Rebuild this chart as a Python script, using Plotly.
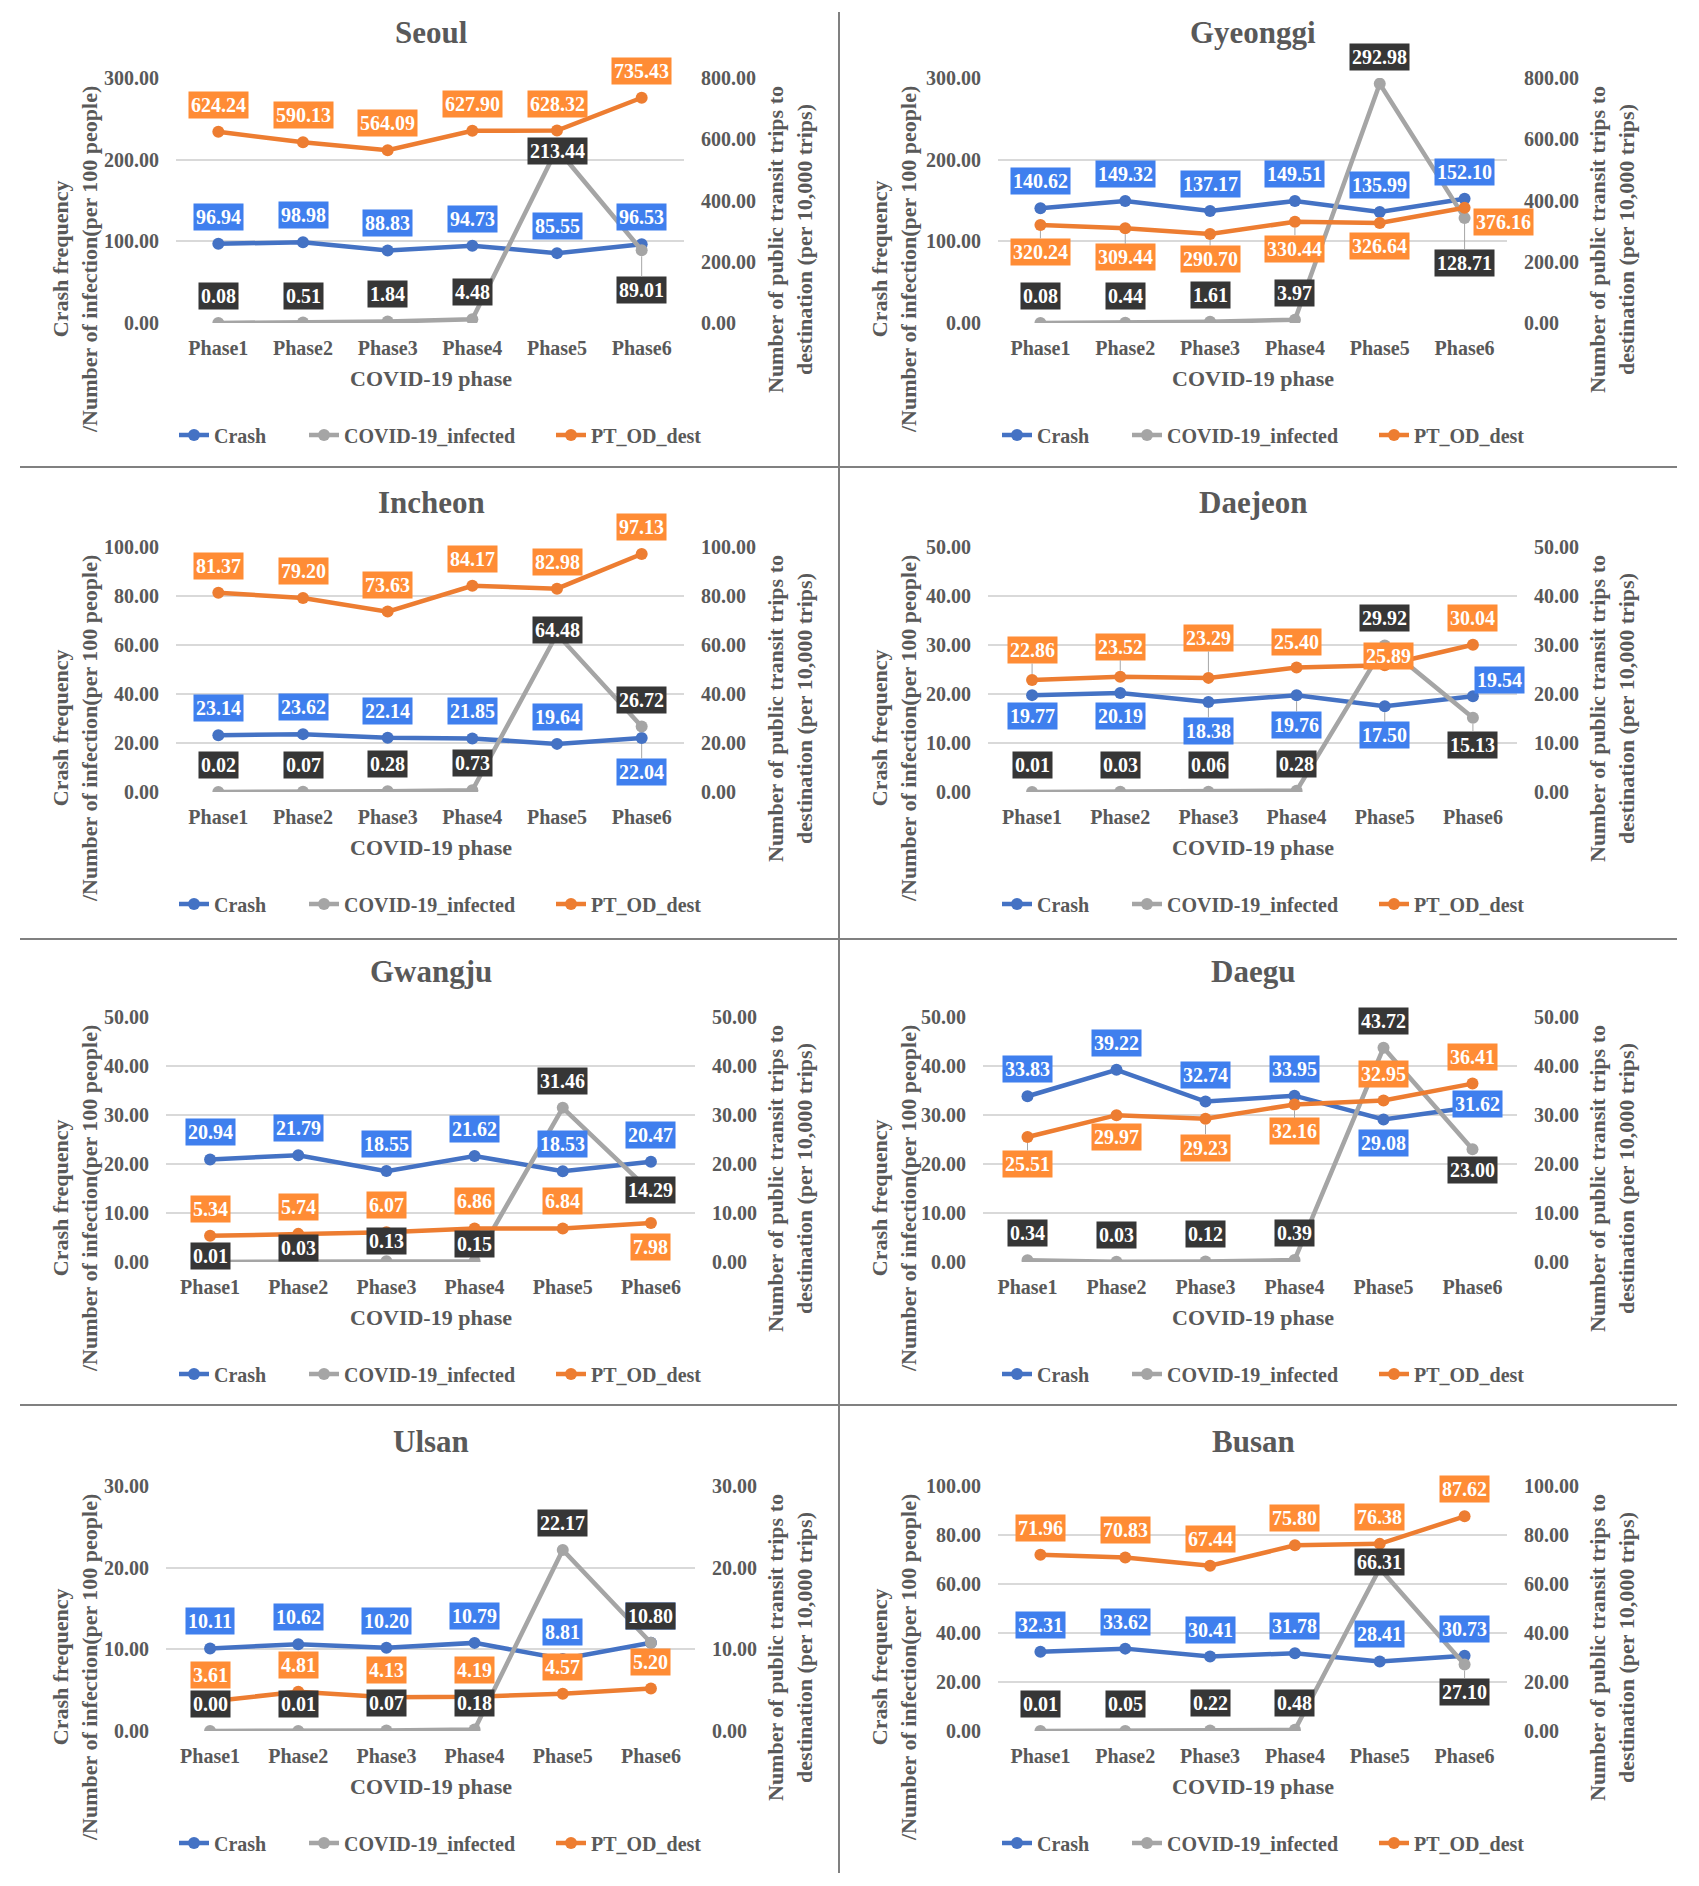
import plotly.graph_objects as go

W, H = 1699, 1886
PAGE_OFFSET = 8  # default body margin of the html page
FONT = "Liberation Serif"
GREY = "#595959"

PHASES = ["Phase1", "Phase2", "Phase3", "Phase4", "Phase5", "Phase6"]
CITIES = ["Seoul", "Gyeonggi", "Incheon", "Daejeon", "Gwangju", "Daegu", "Ulsan", "Busan"]
SERIES = ["Crash", "COVID-19_infected", "PT_OD_dest"]

seoul_crash = [96.94, 98.98, 88.83, 94.73, 85.55, 96.53]
seoul_covid = [0.08, 0.51, 1.84, 4.48, 213.44, 89.01]
seoul_pt = [624.24, 590.13, 564.09, 627.90, 628.32, 735.43]

gyeonggi_crash = [140.62, 149.32, 137.17, 149.51, 135.99, 152.10]
gyeonggi_covid = [0.08, 0.44, 1.61, 3.97, 292.98, 128.71]
gyeonggi_pt = [320.24, 309.44, 290.70, 330.44, 326.64, 376.16]

incheon_crash = [23.14, 23.62, 22.14, 21.85, 19.64, 22.04]
incheon_covid = [0.02, 0.07, 0.28, 0.73, 64.48, 26.72]
incheon_pt = [81.37, 79.20, 73.63, 84.17, 82.98, 97.13]

daejeon_crash = [19.77, 20.19, 18.38, 19.76, 17.50, 19.54]
daejeon_covid = [0.01, 0.03, 0.06, 0.28, 29.92, 15.13]
daejeon_pt = [22.86, 23.52, 23.29, 25.40, 25.89, 30.04]

gwangju_crash = [20.94, 21.79, 18.55, 21.62, 18.53, 20.47]
gwangju_covid = [0.01, 0.03, 0.13, 0.15, 31.46, 14.29]
gwangju_pt = [5.34, 5.74, 6.07, 6.86, 6.84, 7.98]

daegu_crash = [33.83, 39.22, 32.74, 33.95, 29.08, 31.62]
daegu_covid = [0.34, 0.03, 0.12, 0.39, 43.72, 23.00]
daegu_pt = [25.51, 29.97, 29.23, 32.16, 32.95, 36.41]

ulsan_crash = [10.11, 10.62, 10.20, 10.79, 8.81, 10.80]
ulsan_covid = [0.00, 0.01, 0.07, 0.18, 22.17, 10.80]
ulsan_pt = [3.61, 4.81, 4.13, 4.19, 4.57, 5.20]

busan_crash = [32.31, 33.62, 30.41, 31.78, 28.41, 30.73]
busan_covid = [0.01, 0.05, 0.22, 0.48, 66.31, 27.10]
busan_pt = [71.96, 70.83, 67.44, 75.80, 76.38, 87.62]

# left axis max, left step, right axis max, right step
axis_max = [300, 300, 100, 50, 50, 50, 30, 100]
axis_step = [100, 100, 20, 10, 10, 10, 10, 20]
axis2_max = [800, 800, 100, 50, 50, 50, 30, 100]
axis2_step = [200, 200, 20, 10, 10, 10, 10, 20]

values = [
    [seoul_crash, seoul_covid, seoul_pt],
    [gyeonggi_crash, gyeonggi_covid, gyeonggi_pt],
    [incheon_crash, incheon_covid, incheon_pt],
    [daejeon_crash, daejeon_covid, daejeon_pt],
    [gwangju_crash, gwangju_covid, gwangju_pt],
    [daegu_crash, daegu_covid, daegu_pt],
    [ulsan_crash, ulsan_covid, ulsan_pt],
    [busan_crash, busan_covid, busan_pt],
]

LINE_COLORS = ["#4472C4", "#A5A5A5", "#ED7D31"]
LABEL_BG = ["#3F7FEE", "#363636", "#FF8C35"]

# data label offsets in pixels (dx, dy) relative to each point
U = (0, -27)
label_offsets = [
    [[U] * 6, [U, U, U, U, (0, 2), (0, 40)], [U] * 6],
    [[U] * 6, [U, U, U, U, U, (0, 45)], [(0, 27), (0, 29), (0, 25), (0, 27), (0, 23), (39, 14)]],
    [[U, U, U, U, U, (0, 34)], [U, U, U, U, (0, -4), U], [U] * 6],
    [[(0, 21), (0, 23), (0, 29), (0, 30), (0, 29), (27, -16)], [U, U, U, U, U, (0, 27)],
     [(0, -30), (0, -30), (0, -40), (0, -26), (4, -9), U]],
    [[U] * 6, [(0, -6), (0, -14), (0, -20), (0, -17), U, (0, -2)], [U, U, U, U, U, (0, 24)]],
    [[U, U, U, U, (0, 23), (5, -3)], [U, U, U, U, U, (0, 21)], [(0, 27), (0, 22), (0, 29), (0, 27), U, U]],
    [[U] * 6, [U] * 6, [U] * 6],
    [[U] * 6, [U, U, U, U, (0, -7), (0, 27)], [U] * 6],
]

# panel geometry in pixels
PLOT_X = [(176, 684), (998, 1507), (176, 684), (988, 1517),
          (166, 695), (983, 1517), (166, 695), (998, 1507)]
ROW_TOP = [78, 547, 1017, 1486]
PLOT_H = 245
TITLE_X = [431, 1253]
YT_LEFT_X = [75, 894]
YT_RIGHT_X = [790, 1612]
LEGEND_TEXT_X = [[216, 346, 593], [1039, 1169, 1416]]


def fx(px):
    return (px - PAGE_OFFSET) / W


def fy(py):
    return 1 - (py - PAGE_OFFSET) / H


def font(size, color=GREY):
    return dict(family=FONT, size=size, color=color, weight="bold")


fig = go.Figure()
annotations = []
layout = {}

for k, city in enumerate(CITIES):
    col, row = k % 2, k // 2
    top = ROW_TOP[row]
    bottom = top + PLOT_H
    x0, x1 = PLOT_X[k]
    xa, ya, ya2 = f"x{k + 1}", f"y{2 * k + 1}", f"y{2 * k + 2}"
    xk, yk, yk2 = f"xaxis{k + 1}", f"yaxis{2 * k + 1}", f"yaxis{2 * k + 2}"

    layout[xk] = dict(
        domain=[fx(x0), fx(x1)], anchor=ya, type="category",
        categoryorder="array", categoryarray=PHASES, range=[-0.5, 5.5],
        showgrid=False, zeroline=False, showline=False,
        ticks="outside", ticklen=0, ticklabelstandoff=7, tickfont=font(20),
    )
    layout[yk] = dict(
        domain=[fy(bottom), fy(top)], anchor=xa, range=[0, axis_max[k]],
        tick0=0, dtick=axis_step[k], tickformat=".2f",
        showgrid=True, gridcolor="#D9D9D9", gridwidth=1.5,
        zeroline=False, showline=False, ticks="", ticklabelstandoff=16,
        tickfont=font(20),
    )
    layout[yk2] = dict(
        domain=[fy(bottom), fy(top)], anchor=xa, overlaying=ya, side="right",
        range=[0, axis2_max[k]], tick0=0, dtick=axis2_step[k], tickformat=".2f",
        showgrid=False, zeroline=False, showline=False, ticks="",
        ticklabelstandoff=16, tickfont=font(20),
    )

    for j, name in enumerate(SERIES):
        n = 3 * k + j + 1
        lid = "legend" if n == 1 else f"legend{n}"
        fig.add_trace(go.Scatter(
            x=PHASES, y=values[k][j], name=name, mode="lines+markers",
            xaxis=xa, yaxis=ya2 if j == 2 else ya,
            line=dict(color=LINE_COLORS[j], width=4.5),
            marker=dict(color=LINE_COLORS[j], size=12),
            legend=lid, showlegend=True, hoverinfo="skip",
        ))
        layout[lid] = dict(
            x=fx(LEGEND_TEXT_X[col][j] - 42), y=fy(bottom + 112),
            xanchor="left", yanchor="middle", orientation="h",
            bgcolor="rgba(0,0,0,0)", borderwidth=0, font=font(20), itemwidth=30,
        )

    # data labels: crash, PT, then COVID on top
    for j in [0, 2, 1]:
        for i, v in enumerate(values[k][j]):
            dx, dy = label_offsets[k][j][i]
            leader = dy >= 25 or abs(dy) >= 30
            annotations.append(dict(
                x=PHASES[i], y=v, xref=xa, yref=ya2 if j == 2 else ya,
                text=f"{v:.2f}", showarrow=True, ax=dx, ay=dy,
                arrowhead=0, arrowwidth=1, standoff=6,
                arrowcolor="#A6A6A6" if leader else "rgba(0,0,0,0)",
                font=font(20, "white"), bgcolor=LABEL_BG[j], borderpad=2,
            ))

    # titles
    annotations.append(dict(
        x=fx(TITLE_X[col]), y=fy(top - 45), xref="paper", yref="paper",
        text=city, showarrow=False, font=font(31),
        xanchor="center", yanchor="middle",
    ))
    annotations.append(dict(
        x=fx(TITLE_X[col]), y=fy(bottom + 55), xref="paper", yref="paper",
        text="COVID-19 phase", showarrow=False, font=font(22),
        xanchor="center", yanchor="middle",
    ))
    annotations.append(dict(
        x=fx(YT_LEFT_X[col]), y=fy(top + 182), xref="paper", yref="paper",
        text="Crash frequency<br>/Number of infection(per 100 people)",
        showarrow=False, font=font(22), textangle=-90,
        xanchor="center", yanchor="middle",
    ))
    annotations.append(dict(
        x=fx(YT_RIGHT_X[col]), y=fy(top + 162), xref="paper", yref="paper",
        text="Number of public transit trips to<br>destination (per 10,000 trips)",
        showarrow=False, font=font(22), textangle=-90,
        xanchor="center", yanchor="middle",
    ))

# panel separators
shapes = [dict(type="line", xref="paper", yref="paper",
               x0=fx(839), x1=fx(839), y0=fy(12), y1=fy(1873),
               line=dict(color="#808080", width=2))]
for sy in [467, 939, 1405]:
    shapes.append(dict(type="line", xref="paper", yref="paper",
                       x0=fx(20), x1=fx(1677), y0=fy(sy), y1=fy(sy),
                       line=dict(color="#808080", width=2)))

fig.update_layout(
    width=W, height=H,
    margin=dict(l=0, r=0, t=0, b=0, autoexpand=False),
    paper_bgcolor="white", plot_bgcolor="white",
    annotations=annotations, shapes=shapes, **layout,
)
fig.write_html("out.html")
